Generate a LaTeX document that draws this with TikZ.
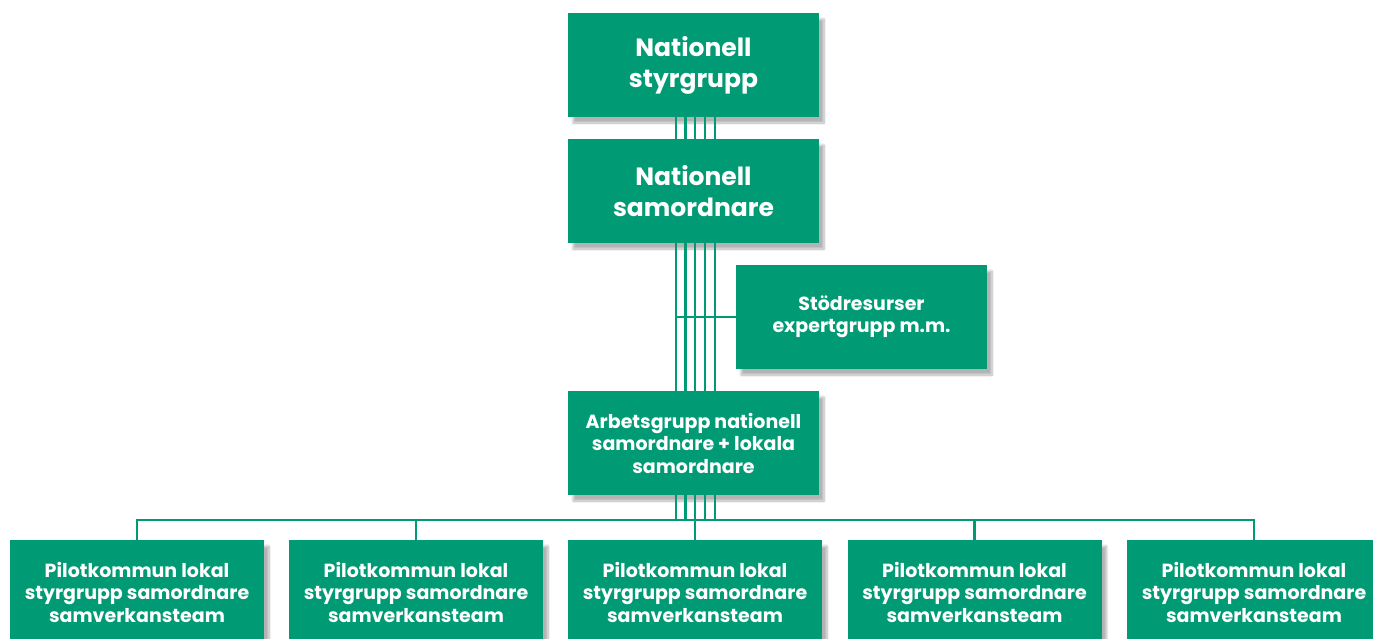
\documentclass[tikz,border=0pt]{standalone}
\usepackage{fontspec}
\setmainfont{Poppins}
\usepackage{xcolor}
\usepackage{tikz}
\usetikzlibrary{calc,positioning,shadows.blur}
\definecolor{orggreen}{HTML}{009B74}
\tikzset{
  ln/.style={orggreen,line width=2.2pt},
  orgbox/.style={fill=orggreen,text=white,align=center,inner sep=0pt,
    minimum width=251pt,minimum height=104pt,font=\bfseries\fontsize{25}{31}\selectfont,
    blur shadow={shadow xshift=5pt,shadow yshift=-6pt,shadow opacity=30,shadow blur steps=8}},
  smallbox/.style={orgbox,font=\bfseries\fontsize{19}{22.5}\selectfont},
  pilot/.style={smallbox,minimum width=254pt}
}
\begin{document}
\begin{tikzpicture}[x=1pt,y=-1pt]
\useasboundingbox (0,0) rectangle (1373,638);
\node[orgbox] (nstyr) at (693.5,65) {Nationell\\styrgrupp};
\node[orgbox] (nsam) at (693.5,191) {Nationell\\samordnare};
\node[smallbox] (stod) at (861.5,317) {Stödresurser\\expertgrupp m.m.};
\node[smallbox] (arb) at (693.5,443) {Arbetsgrupp nationell\\samordnare + lokala\\samordnare};
\foreach \i/\x in {1/137,2/416,3/695,4/974.5,5/1254}
  \node[pilot] (pilot\i) at (\x,592) {Pilotkommun lokal\\styrgrupp samordnare\\samverkansteam};
\coordinate (bus) at (0,520);
% the five parallel lines
\foreach \dx in {-17.5,-8,1.5,11.5,21.5}{
  \draw[ln] ($(nstyr.south)+(\dx,0)$) -- ($(nsam.north)+(\dx,0)$);
  \draw[ln] ($(nsam.south)+(\dx,0)$) -- ($(arb.north)+(\dx,0)$);
  \draw[ln] ($(arb.south)+(\dx,0)$) -- ($(arb.south |- bus)+(\dx,0)$);
}
\draw[ln] (stod.west) -- ($(stod.west -| nsam.south)+(-17.5,0)$);
% bus to the pilot boxes
\draw[ln] (pilot1.north) |- (bus -| pilot5.north) -- (pilot5.north);
\foreach \i in {2,3,4}
  \draw[ln] (pilot\i.north) -- (pilot\i.north |- bus);
\end{tikzpicture}
\end{document}
